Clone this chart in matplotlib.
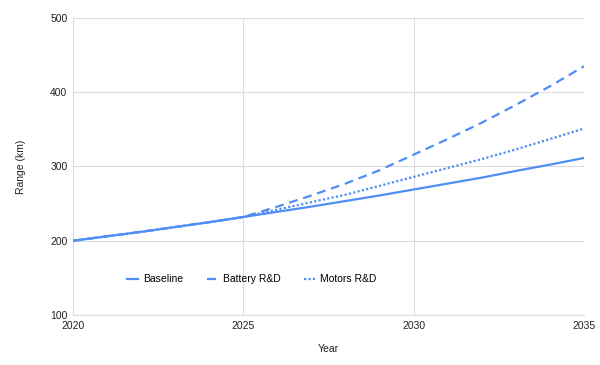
import matplotlib.pyplot as plt

plt.rcParams['font.family'] = ['Liberation Sans', 'DejaVu Sans']

years = list(range(2020, 2036))
baseline = [200, 206, 212, 218.5, 225, 232, 239, 246, 253.5, 261, 269, 277, 285, 294, 302.5, 311.5]
battery = [200, 206, 212, 218.5, 225, 232, 246, 261, 277, 295, 316, 337, 359, 383, 408, 435]
motors = [200, 206, 212, 218.5, 225, 232, 242, 252, 262, 274, 286, 298, 310, 323, 337, 351]

blue = '#4f8ef5'
grid_c = '#dcdcdc'

fig = plt.figure(figsize=(6, 3.65), dpi=100)
ax = fig.add_axes([0.1217, 0.137, 0.8516, 0.8137])

ax.plot(years, baseline, color=blue, lw=1.6, label='Baseline', zorder=3)
ax.plot(years, battery, color=blue, lw=1.6, dashes=(4, 2.6), label='Battery R&D', zorder=3)
ax.plot(years, motors, color=blue, lw=1.6, dashes=(1, 1), label='Motors R&D', zorder=3)

ax.set_xlim(2020, 2035)
ax.set_ylim(100, 500)
ax.set_xticks([2020, 2025, 2030, 2035])
ax.set_yticks([100, 200, 300, 400, 500])
ax.grid(True, color=grid_c, lw=0.8)
ax.set_axisbelow(True)
for s in ['top', 'right']:
    ax.spines[s].set_visible(False)
for s in ['left', 'bottom']:
    ax.spines[s].set_color(grid_c)
    ax.spines[s].set_linewidth(0.8)
ax.tick_params(length=0, labelsize=7.5, colors='#222222', pad=4)
ax.set_xlabel('Year', fontsize=7.5, color='#222222', labelpad=10)
ax.set_ylabel('Range (km)', fontsize=7.5, color='#222222', labelpad=17)

ax.legend(loc='center left', bbox_to_anchor=(0.106, 0.12), ncol=3, frameon=False,
          fontsize=7.5, handlelength=1.0, columnspacing=2.3, handletextpad=0.5,
          borderaxespad=0, borderpad=0)

fig.savefig('out.png', dpi=100)
